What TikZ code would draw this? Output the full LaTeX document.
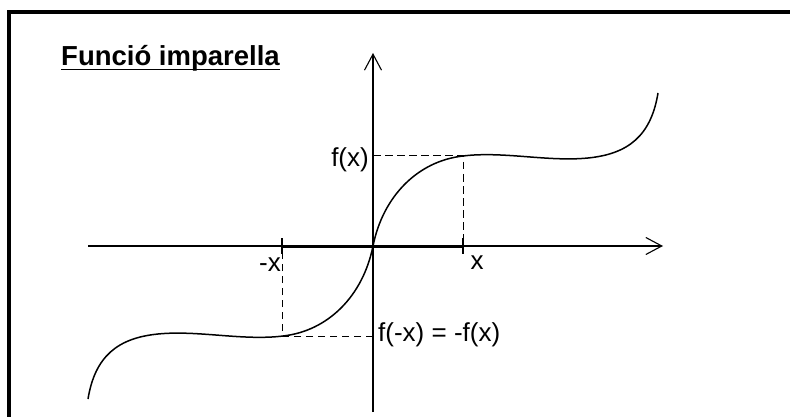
\documentclass[tikz,border=0pt]{standalone}
\usepackage{fontspec}
\setmainfont{Liberation Sans}
\usetikzlibrary{arrows.meta}
\begin{document}
\begin{tikzpicture}[x=1pt,y=-1pt, every node/.style={font=\fontsize{26}{30}\selectfont,inner sep=0pt},
  axis/.style={line width=1.1pt,-{Straight Barb[length=16pt,width=17pt,line width=1.1pt]}},
  guide/.style={line width=1pt,dash pattern=on 7.5pt off 4.5pt},
  graph/.style={line width=1.5pt}]
\useasboundingbox (0,0) rectangle (790,417);
% marc
\draw[line width=3.5pt] (9,420) -- (9,12) -- (795,12);
% punts
\coordinate (O) at (373,246);
\coordinate (xmin) at (88,246); \coordinate (xmax) at (663,246);
\coordinate (ymin) at (373,412); \coordinate (ymax) at (373,53);
\coordinate (xp) at (463,246); \coordinate (xn) at (282,246);
\coordinate (fp) at (463,156); \coordinate (fn) at (282,336);
% eixos
\draw[axis] (xmin) -- (xmax);
\draw[axis] (ymin) -- (ymax);
\draw[line width=3pt] (xn) -- (xp);
\draw[line width=1.1pt] ([yshift=8pt]xn) -- ([yshift=-8pt]xn);
\draw[line width=1.1pt] ([yshift=8pt]xp) -- ([yshift=-8pt]xp);
\draw[guide] (O |- fp) -- (fp) -- (xp);
\draw[guide] (O |- fn) -- (fn) -- (xn);
% corba
\draw[graph,shift={(O)},yscale=-1] (-285,-153) .. controls (-278,-110) and (-255,-92) .. (-215,-88)
  .. controls (-175,-84) and (-130,-95) .. (-90,-90) .. controls (-45,-85) and (-10,-50) .. (0,0)
  .. controls (10,50) and (45,85) .. (90,90) .. controls (130,95) and (175,84) .. (215,88)
  .. controls (255,92) and (278,110) .. (285,153);
% textos
\node[anchor=base west,font=\fontsize{27.5}{30}\selectfont\bfseries] (title) at (61,66) {Funció imparella};
\draw[line width=1.8pt] ([yshift=-3.5pt]title.base west) -- ([yshift=-3.5pt]title.base east);
\node[anchor=east] (lfx) at (369,160) {f(x)};
\node (lx) at (477,263) {x};
\node[anchor=east] (lnx) at (281,265) {-x};
\node[anchor=west] (lfnx) at (378,335) {f(-x) = -f(x)};
\end{tikzpicture}
\end{document}
